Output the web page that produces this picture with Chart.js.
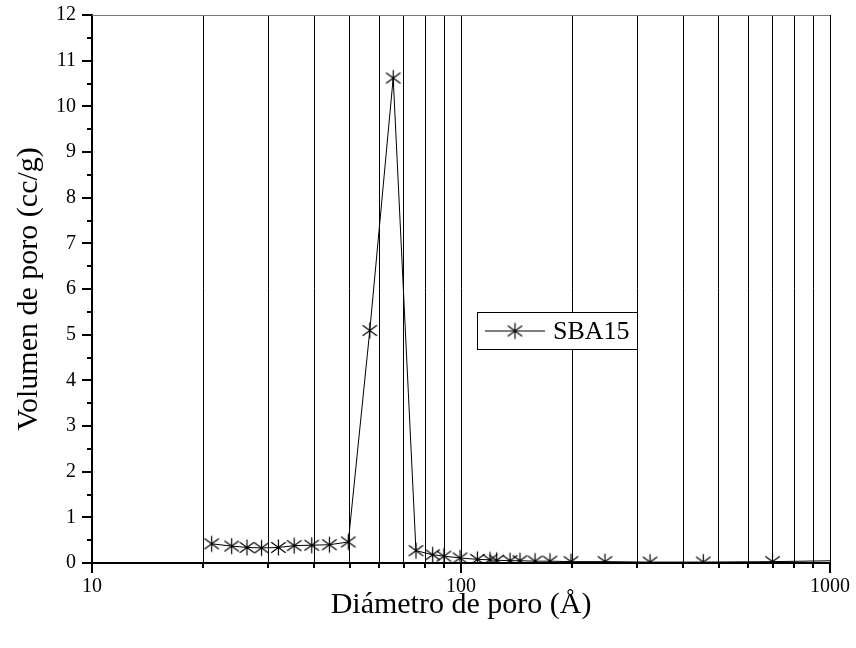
<!DOCTYPE html>
<html>
<head>
<meta charset="utf-8">
<script src="https://cdn.jsdelivr.net/npm/chart.js@4.4.0/dist/chart.umd.min.js"></script>
<style>
  html, body { margin: 0; padding: 0; background: #fff; }
  #wrap { width: 856px; height: 648px; position: relative; }
</style>
</head>
<body>
<div id="wrap"><canvas id="chart"></canvas></div>
<script>
// Pore size distribution, SBA15
const poreDiameter = [21.1, 23.9, 26.3, 28.8, 32.0, 35.3, 39.4, 44.0, 49.5, 56.6, 65.5, 75.5, 83.8, 89.9, 99.4,
  110.8, 119.8, 124.9, 135.8, 144.5, 158.7, 174.2, 198.6, 245.6, 325.3, 453.6, 698.7, 1250];
const poreVolume = [0.42, 0.37, 0.34, 0.33, 0.34, 0.38, 0.39, 0.40, 0.46, 5.09, 10.62, 0.27, 0.18, 0.15, 0.11,
  0.08, 0.07, 0.06, 0.05, 0.05, 0.04, 0.04, 0.03, 0.03, 0.02, 0.02, 0.03, 0.06];
const xTicks = [10, 20, 30, 40, 50, 60, 70, 80, 90, 100, 200, 300, 400, 500, 600, 700, 800, 900, 1000];
const xLabelled = [10, 100, 1000];
const yTicksMinor = [0, 0.5, 1, 1.5, 2, 2.5, 3, 3.5, 4, 4.5, 5, 5.5, 6, 6.5, 7, 7.5, 8, 8.5, 9, 9.5, 10, 10.5, 11, 11.5, 12];
const seriesName = "SBA15";

const FONT = "'Liberation Serif', 'Times New Roman', serif";
const NONE = "rgba(0,0,0,0)";

// asterisk marker: vertical bar + X
function makeStar(size) {
  const c = document.createElement("canvas");
  c.width = size * 2 + 3;
  c.height = size * 2 + 3;
  const g = c.getContext("2d");
  const m = size + 1.5;
  g.strokeStyle = "#000";
  g.lineWidth = 1.2;
  g.beginPath();
  g.moveTo(m, m - size); g.lineTo(m, m + size);
  const d = size * 0.9;
  g.moveTo(m - d, m - d * 0.72); g.lineTo(m + d, m + d * 0.72);
  g.moveTo(m - d, m + d * 0.72); g.lineTo(m + d, m - d * 0.72);
  g.stroke();
  return c;
}
const star = makeStar(8);

// tick marks, frame and legend
const framePlugin = {
  id: "frame",
  afterDraw(chart) {
    const { ctx, chartArea: a, scales } = chart;
    ctx.save();
    // top + right border
    ctx.lineWidth = 1;
    ctx.strokeStyle = "#777";
    ctx.beginPath();
    ctx.moveTo(a.left, a.top + 0.5); ctx.lineTo(a.right, a.top + 0.5);
    ctx.stroke();
    ctx.strokeStyle = "#000";
    ctx.beginPath();
    ctx.moveTo(a.right + 0.5, a.top); ctx.lineTo(a.right + 0.5, a.bottom);
    ctx.stroke();
    // x ticks
    ctx.lineWidth = 2;
    ctx.beginPath();
    xTicks.forEach((v) => {
      const px = Math.round(scales.x.getPixelForValue(v));
      const len = xLabelled.includes(v) ? 10 : 5;
      ctx.moveTo(px, a.bottom); ctx.lineTo(px, a.bottom + len);
    });
    // y ticks
    yTicksMinor.forEach((v) => {
      const py = Math.round(scales.y.getPixelForValue(v));
      const len = Number.isInteger(v) ? 10 : 5;
      ctx.moveTo(a.left, py); ctx.lineTo(a.left - len, py);
    });
    ctx.stroke();

    // legend box
    const bx = 477, by = 312, bw = 160, bh = 37;
    ctx.fillStyle = "#fff";
    ctx.fillRect(bx, by, bw, bh);
    ctx.lineWidth = 1;
    ctx.strokeRect(bx + 0.5, by + 0.5, bw, bh);
    const ly = by + bh / 2 + 0.5;
    ctx.beginPath();
    ctx.moveTo(bx + 8, ly); ctx.lineTo(bx + 68, ly);
    ctx.stroke();
    ctx.drawImage(star, bx + 38 - star.width / 2, ly - star.height / 2);
    ctx.fillStyle = "#000";
    ctx.font = "26px " + FONT;
    ctx.textBaseline = "middle";
    ctx.fillText(seriesName, bx + 76, ly + 1);
    ctx.restore();
  }
};

const points = poreDiameter.map((d, i) => ({ x: d, y: poreVolume[i] }));

new Chart(document.getElementById("chart"), {
  type: "line",
  data: {
    datasets: [{
      label: seriesName,
      data: points,
      borderColor: "#000",
      borderWidth: 1,
      tension: 0,
      fill: false,
      pointStyle: star,
      pointRadius: 8
    }]
  },
  options: {
    responsive: true,
    maintainAspectRatio: false,
    animation: false,
    layout: { padding: { top: 15, right: 26, bottom: 0, left: 0 } },
    plugins: { legend: { display: false }, tooltip: { enabled: false } },
    scales: {
      x: {
        type: "logarithmic",
        min: 10,
        max: 1000,
        afterBuildTicks: (s) => { s.ticks = xTicks.map((v) => ({ value: v })); },
        afterFit: (s) => { s.height = 85; },
        grid: {
          drawTicks: true,
          tickLength: 12,
          tickColor: NONE,
          color: (c) => (c.tick && (c.tick.value === 10 || c.tick.value === 1000)) ? NONE : "#000",
          lineWidth: 1
        },
        border: { display: true, color: "#000", width: 2 },
        ticks: {
          autoSkip: false,
          maxRotation: 0,
          padding: 0,
          color: "#000",
          font: { family: FONT, size: 20 },
          callback: (v) => xLabelled.includes(v) ? String(v) : ""
        },
        title: {
          display: true,
          text: "Diámetro de poro (Å)",
          color: "#000",
          font: { family: FONT, size: 30 },
          padding: { top: 0, bottom: 25 }
        }
      },
      y: {
        min: 0,
        max: 12,
        afterFit: (s) => { s.width = 92; },
        grid: { display: true, drawOnChartArea: false, drawTicks: true, tickLength: 16, tickColor: NONE, color: NONE },
        border: { display: true, color: "#000", width: 2 },
        ticks: {
          stepSize: 1,
          padding: 0,
          color: "#000",
          font: { family: FONT, size: 20 }
        },
        title: {
          display: true,
          text: "Volumen de poro (cc/g)",
          color: "#000",
          font: { family: FONT, size: 30 },
          padding: { top: 11, bottom: 0 }
        }
      }
    }
  },
  plugins: [framePlugin]
});
</script>
</body>
</html>
